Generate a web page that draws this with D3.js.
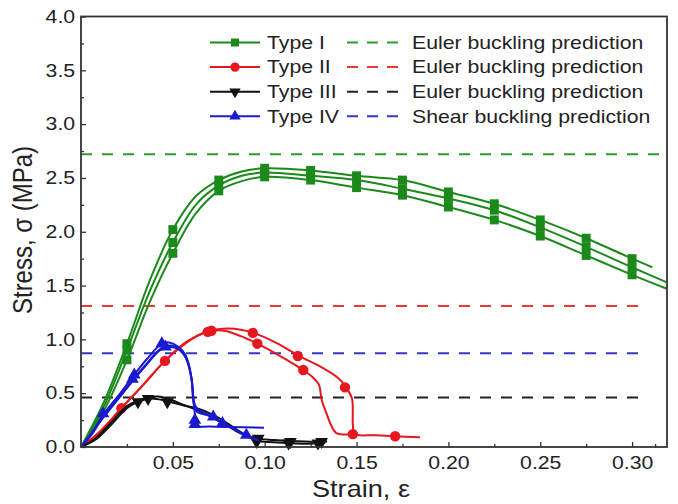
<!DOCTYPE html>
<html>
<head>
<meta charset="utf-8">
<script src="https://cdn.jsdelivr.net/npm/d3@7"></script>
<style>
  body { margin: 0; background: #fff; }
  svg text { font-family: "Liberation Sans", Arial, sans-serif; fill: #222; }
</style>
</head>
<body>
<svg width="678" height="504"></svg>
<script>
// tick values
const xMajor = [0.05, 0.10, 0.15, 0.20, 0.25, 0.30];
const xMinor = [0.025, 0.075, 0.125, 0.175, 0.225, 0.275, 0.3125];
const yMajor = [0, 0.5, 1, 1.5, 2, 2.5, 3, 3.5, 4];
const yMinor = [0.25, 0.75, 1.25, 1.75, 2.25, 2.75, 3.25, 3.75];

// Type I (three specimens) [strain, stress]
const typeI_a = [[0,0],[0.0125,0.42],[0.025,0.96],[0.0375,1.55],[0.05,2.02],[0.0625,2.33],[0.075,2.48],[0.0875,2.56],[0.1,2.59],[0.125,2.57],[0.15,2.52],[0.175,2.48],[0.2,2.37],[0.225,2.26],[0.25,2.11],[0.275,1.94],[0.3,1.75],[0.311,1.67]];
const typeI_b = [[0,0],[0.0125,0.38],[0.025,0.90],[0.0375,1.45],[0.05,1.90],[0.0625,2.25],[0.075,2.43],[0.0875,2.52],[0.1,2.55],[0.125,2.52],[0.15,2.48],[0.175,2.40],[0.2,2.31],[0.225,2.20],[0.25,2.04],[0.275,1.86],[0.3,1.67],[0.319,1.53]];
const typeI_c = [[0,0],[0.0125,0.34],[0.025,0.81],[0.0375,1.35],[0.05,1.80],[0.0625,2.17],[0.075,2.38],[0.0875,2.47],[0.1,2.51],[0.125,2.48],[0.15,2.41],[0.175,2.34],[0.2,2.23],[0.225,2.11],[0.25,1.96],[0.275,1.78],[0.3,1.60],[0.319,1.47]];
const typeI_marks = [[0.025,0.96],[0.025,0.90],[0.025,0.81],[0.05,2.02],[0.05,1.90],[0.05,1.80],[0.075,2.48],[0.075,2.43],[0.075,2.38],[0.1,2.59],[0.1,2.55],[0.1,2.51],[0.125,2.57],[0.125,2.52],[0.125,2.48],[0.15,2.52],[0.15,2.48],[0.15,2.41],[0.175,2.48],[0.175,2.40],[0.175,2.34],[0.2,2.37],[0.2,2.31],[0.2,2.23],[0.225,2.26],[0.225,2.20],[0.225,2.11],[0.25,2.11],[0.25,2.04],[0.25,1.96],[0.275,1.94],[0.275,1.86],[0.275,1.78],[0.3,1.75],[0.3,1.67],[0.3,1.60]];

// Type II
const typeII_a = [[0,0],[0.01,0.14],[0.022,0.36],[0.034,0.58],[0.0457,0.80],[0.056,0.96],[0.063,1.03],[0.07,1.08],[0.08,1.10],[0.087,1.09],[0.094,1.06],[0.106,0.97],[0.119,0.845],[0.132,0.73],[0.14,0.64],[0.1443,0.554],[0.1475,0.45],[0.148,0.2],[0.149,0.12],[0.16,0.11],[0.171,0.10],[0.1845,0.09]];
const typeII_b = [[0,0],[0.01,0.13],[0.022,0.36],[0.034,0.58],[0.0457,0.80],[0.056,0.95],[0.063,1.03],[0.071,1.08],[0.078,1.08],[0.087,1.03],[0.096,0.96],[0.108,0.85],[0.121,0.715],[0.126,0.65],[0.1295,0.58],[0.131,0.44],[0.1337,0.31],[0.1365,0.19],[0.139,0.13],[0.149,0.12]];
const typeII_marks = [[0.022,0.36],[0.0457,0.80],[0.069,1.07],[0.071,1.08],[0.0935,1.06],[0.096,0.96],[0.118,0.845],[0.121,0.715],[0.1437,0.554],[0.148,0.12],[0.171,0.10]];

// Type III
const typeIII_a = [[0,0],[0.008,0.08],[0.016,0.22],[0.025,0.38],[0.031,0.43],[0.0365,0.46],[0.042,0.47],[0.047,0.45],[0.0575,0.38],[0.065,0.33],[0.0757,0.24],[0.0866,0.13],[0.0956,0.08],[0.105,0.065],[0.1138,0.055],[0.122,0.05],[0.131,0.05],[0.134,0.05]];
const typeIII_b = [[0,0],[0.008,0.07],[0.016,0.2],[0.025,0.36],[0.031,0.42],[0.038,0.45],[0.046,0.43],[0.055,0.39],[0.065,0.35],[0.075,0.27],[0.085,0.16],[0.0956,0.06],[0.105,0.045],[0.114,0.035],[0.122,0.03],[0.129,0.035],[0.133,0.04]];
const typeIII_marks = [[0.031,0.42],[0.0365,0.45],[0.047,0.42],[0.0965,0.08],[0.0956,0.05],[0.114,0.05],[0.113,0.035],[0.131,0.05],[0.129,0.035]];

// Type IV
const typeIV_a = [[0,0],[0.006,0.13],[0.012,0.3],[0.02,0.47],[0.028,0.65],[0.036,0.82],[0.044,0.96],[0.048,0.97],[0.053,0.93],[0.057,0.85],[0.06,0.65],[0.061,0.45],[0.062,0.3],[0.062,0.2],[0.07,0.19],[0.08,0.185],[0.0996,0.18]];
const typeIV_b = [[0,0],[0.006,0.12],[0.012,0.28],[0.02,0.45],[0.028,0.62],[0.036,0.78],[0.044,0.92],[0.05,0.94],[0.054,0.9],[0.058,0.8],[0.0605,0.6],[0.0615,0.4],[0.063,0.33],[0.068,0.3],[0.072,0.28],[0.077,0.22],[0.083,0.17],[0.09,0.11],[0.095,0.07],[0.097,0.06]];
const typeIV_c = [[0,0],[0.012,0.27],[0.02,0.44],[0.028,0.61],[0.036,0.77],[0.043,0.9],[0.048,0.93],[0.053,0.91],[0.057,0.83],[0.06,0.65],[0.0615,0.42],[0.063,0.36],[0.068,0.31],[0.074,0.25],[0.08,0.2],[0.087,0.13],[0.092,0.09],[0.096,0.07]];
const typeIV_marks = [[0.012,0.31],[0.028,0.63],[0.029,0.67],[0.044,0.96],[0.046,0.93],[0.062,0.21],[0.062,0.25],[0.072,0.28],[0.077,0.22],[0.09,0.11]];

// buckling predictions
const predNames = ["Euler buckling prediction", "Euler buckling prediction", "Euler buckling prediction", "Shear buckling prediction"];
const predValues = [2.72, 1.31, 0.46, 0.87];
const predEnd = [0.317, 0.308, 0.308, 0.308];

const svg = d3.select("svg");
const x = d3.scaleLinear().domain([0, 0.319]).range([81, 667]);
const y = d3.scaleLinear().domain([0, 4]).range([447, 16.5]);
const stretch = "scale(1.18,1)";

const series = [
  {name: "Type I", curves: [typeI_a, typeI_b, typeI_c], marks: typeI_marks, color: "#1b8a1b", dash: "#2f9a2f", sym: d3.symbolSquare, size: 80, rot: 0},
  {name: "Type II", curves: [typeII_a, typeII_b], marks: typeII_marks, color: "#e8161e", dash: "#e83838", sym: d3.symbolCircle, size: 85, rot: 0},
  {name: "Type III", curves: [typeIII_a, typeIII_b], marks: typeIII_marks, color: "#111111", dash: "#222222", sym: d3.symbolTriangle, size: 70, rot: 180},
  {name: "Type IV", curves: [typeIV_a, typeIV_b, typeIV_c], marks: typeIV_marks, color: "#1a1ad0", dash: "#3535c8", sym: d3.symbolTriangle, size: 70, rot: 0}
];

// prediction lines
svg.append("g").selectAll("line")
  .data(predValues)
  .join("line")
  .attr("x1", x(0))
  .attr("x2", (d, i) => x(predEnd[i]))
  .attr("y1", d => y(d))
  .attr("y2", d => y(d))
  .attr("stroke", (d, i) => series[i].dash)
  .attr("stroke-width", 2)
  .attr("stroke-dasharray", "11,10");

const line = d3.line()
  .x(d => x(d[0]))
  .y(d => y(d[1]))
  .curve(d3.curveCatmullRom.alpha(0.5));

// draw order: green, red, black, blue
series.forEach(s => {
  const g = svg.append("g");
  g.selectAll("path.curve")
    .data(s.curves)
    .join("path")
    .attr("class", "curve")
    .attr("d", line)
    .attr("fill", "none")
    .attr("stroke", s.color)
    .attr("stroke-width", 2);
  g.selectAll("path.mark")
    .data(s.marks)
    .join("path")
    .attr("class", "mark")
    .attr("d", d3.symbol(s.sym, s.size))
    .attr("transform", d => `translate(${x(d[0])},${y(d[1])}) rotate(${s.rot})`)
    .attr("fill", s.color);
});

// axes
const xAxis = svg.append("g")
  .attr("transform", `translate(0,${y(0)})`)
  .call(d3.axisBottom(x).tickValues(xMajor).tickSizeInner(-5).tickSizeOuter(0).tickFormat(d3.format(".2f")));
svg.append("g")
  .attr("transform", `translate(0,${y(0)})`)
  .call(d3.axisBottom(x).tickValues(xMinor).tickSizeInner(-3).tickSizeOuter(0).tickFormat(""));
const yAxis = svg.append("g")
  .attr("transform", `translate(${x(0)},0)`)
  .call(d3.axisLeft(y).tickValues(yMajor).tickSizeInner(-5).tickSizeOuter(0).tickPadding(5).tickFormat(d3.format(".1f")));
svg.append("g")
  .attr("transform", `translate(${x(0)},0)`)
  .call(d3.axisLeft(y).tickValues(yMinor).tickSizeInner(-3).tickSizeOuter(0).tickFormat(""));

svg.selectAll(".domain").remove();
svg.selectAll(".tick line").attr("stroke", "#333").attr("stroke-width", 1.3);

xAxis.selectAll("text")
  .attr("y", 22).attr("dy", null)
  .attr("font-size", 18)
  .attr("transform", stretch);
yAxis.selectAll("text")
  .attr("x", -5)
  .attr("font-size", 18)
  .attr("transform", stretch);
svg.selectAll(".tick text").attr("fill", "#222").style("font-family", "'Liberation Sans', Arial, sans-serif");

// frame
svg.append("rect")
  .attr("x", x(0)).attr("y", y(4))
  .attr("width", x(0.319) - x(0))
  .attr("height", y(0) - y(4))
  .attr("fill", "none")
  .attr("stroke", "#333")
  .attr("stroke-width", 1.8);

// titles
svg.append("text")
  .attr("transform", `translate(361,497) ${stretch}`)
  .attr("text-anchor", "middle")
  .attr("font-size", 23)
  .text("Strain, ε");
svg.append("text")
  .attr("transform", `translate(32,230) ${stretch} rotate(-90)`)
  .attr("text-anchor", "middle")
  .attr("font-size", 24)
  .text("Stress, σ (MPa)");

// Legend
const legend = svg.append("g")
  .selectAll("g")
  .data(series)
  .join("g")
  .attr("transform", (d, i) => `translate(0,${42.5 + i * 24.6})`);

legend.append("line")
  .attr("x1", 210).attr("x2", 260)
  .attr("stroke", d => d.color)
  .attr("stroke-width", 2);
legend.append("path")
  .attr("d", d => d3.symbol(d.sym, d.size * 0.8)())
  .attr("transform", d => `translate(235,0) rotate(${d.rot})`)
  .attr("fill", d => d.color);
legend.append("text")
  .attr("transform", `translate(267,6.3) ${stretch}`)
  .attr("font-size", 18)
  .text(d => d.name);
legend.append("line")
  .attr("x1", 347).attr("x2", 404)
  .attr("stroke", d => d.dash)
  .attr("stroke-width", 2)
  .attr("stroke-dasharray", "11,9");
legend.append("text")
  .attr("transform", `translate(412,6.3) ${stretch}`)
  .attr("font-size", 18)
  .text((d, i) => predNames[i]);
</script>
</body>
</html>
